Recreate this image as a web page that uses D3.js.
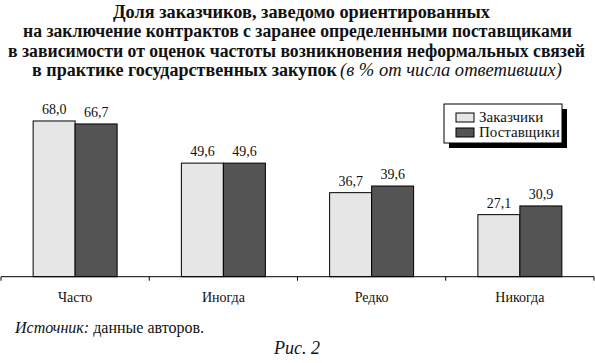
<!DOCTYPE html>
<html>
<head>
<meta charset="utf-8">
<script src="https://cdn.jsdelivr.net/npm/d3@7"></script>
</head>
<body style="margin:0;background:#fff">
<svg id="chart" width="595" height="363"></svg>
<script>
const categories = ['Часто', 'Иногда', 'Редко', 'Никогда']
const seriesNames = ['Заказчики', 'Поставщики']
const customers = [68.0, 49.6, 36.7, 27.1]
const suppliers = [66.7, 49.6, 39.6, 30.9]
const titleLines = [
  'Доля заказчиков, заведомо ориентированных',
  'на заключение контрактов с заранее определенными поставщиками',
  'в зависимости от оценок частоты возникновения неформальных связей',
  'в практике государственных закупок'
]
const titleNote = '(в % от числа ответивших)'
const colors = ['#e6e6e6', '#545454']

const width = 595, height = 363
const svg = d3.select('#chart')

// title, each line fitted to where it sits in the picture
const titleX = [113, 23, 8, 32]
const titleWidths = [377, 549, 577, 305]
const title = svg.append('g').attr('class', 'title')
titleLines.forEach((t, i) => {
  title.append('text')
    .attr('x', titleX[i])
    .attr('y', 18 + i * 19.3)
    .attr('textLength', titleWidths[i])
    .attr('lengthAdjust', 'spacingAndGlyphs')
    .style('font-weight', 'bold')
    .style('font-size', '18px')
    .text(t)
})
title.append('text')
  .attr('x', 340)
  .attr('y', 18 + 3 * 19.3)
  .attr('textLength', 222)
  .attr('lengthAdjust', 'spacingAndGlyphs')
  .style('font-style', 'italic')
  .style('font-size', '18px')
  .text(titleNote)

let x = d3.scaleBand()
.domain(categories)
.range([1, 594])

let xInner = d3.scaleBand()
.domain(seriesNames)
.range([0, 84])

let y = d3.scaleLinear()
.domain([0, 80])
.range([276.7, 93.5])

const data = categories.map((c, i) => ({ cat: c, values: [customers[i], suppliers[i]] }))

let groups = svg.append('g')
.selectAll('g')
.data(data)
.join('g')
.attr('transform', d => 'translate(' + (x(d.cat) + x.bandwidth() / 2 - 42) + ',0)')

groups.selectAll('rect')
.data(d => d.values.map((v, j) => ({ name: seriesNames[j], v: v, j: j })))
.join('rect')
.attr('x', d => xInner(d.name))
.attr('width', xInner.bandwidth())
.attr('y', d => y(d.v))
.attr('height', d => y(0) - y(d.v))
.attr('fill', d => colors[d.j])
.attr('stroke', '#000')
.attr('stroke-width', 1)

groups.selectAll('text.val')
.data(d => d.values.map((v, j) => ({ name: seriesNames[j], v: v })))
.join('text')
.attr('class', 'val')
.attr('x', d => xInner(d.name) + xInner.bandwidth() / 2)
.attr('y', d => y(d.v) - 7)
.attr('text-anchor', 'middle')
.style('font-size', '14px')
.text(d => d.v.toFixed(1).replace('.', ','))

// axis: baseline with ticks on band edges
const axis = svg.append('g').attr('class', 'xaxis')
axis.append('line')
.attr('x1', x.range()[0]).attr('x2', x.range()[1])
.attr('y1', y(0)).attr('y2', y(0))
.attr('stroke', '#000')
const edges = categories.map(c => x(c)).concat([x.range()[1]])
axis.selectAll('line.tick')
.data(edges)
.join('line')
.attr('class', 'tick')
.attr('x1', d => d).attr('x2', d => d)
.attr('y1', y(0)).attr('y2', y(0) + 4)
.attr('stroke', '#000')
axis.selectAll('text')
.data(categories)
.join('text')
.attr('x', d => x(d) + x.bandwidth() / 2)
.attr('y', 302)
.attr('text-anchor', 'middle')
.style('font-size', '14px')
.text(d => d)

// legend with drop shadow
const legend = svg.append('g').attr('transform', 'translate(444,104)')
legend.append('rect')
.attr('x', 5).attr('y', 5).attr('width', 118).attr('height', 39)
.attr('fill', '#000')
legend.append('rect')
.attr('width', 118).attr('height', 39)
.attr('fill', '#fff').attr('stroke', '#000')
seriesNames.forEach((s, i) => {
  legend.append('rect')
  .attr('x', 12).attr('y', 9 + i * 15)
  .attr('width', 18).attr('height', 9)
  .attr('fill', colors[i]).attr('stroke', '#000')
  legend.append('text')
  .attr('x', 35).attr('y', 18 + i * 15)
  .style('font-size', '15px')
  .text(s)
})

// source and figure number
const src = svg.append('text').attr('x', 15).attr('y', 333).style('font-size', '16px')
src.append('tspan').style('font-style', 'italic').text('Источник:')
src.append('tspan').text(' данные авторов.')

svg.append('text')
.attr('x', 297).attr('y', 354)
.attr('text-anchor', 'middle')
.style('font-style', 'italic')
.style('font-size', '18px')
.text('Рис. 2')

svg.selectAll('text')
.style('font-family', '"Liberation Serif"')
.style('fill', '#111')
</script>
</body>
</html>
